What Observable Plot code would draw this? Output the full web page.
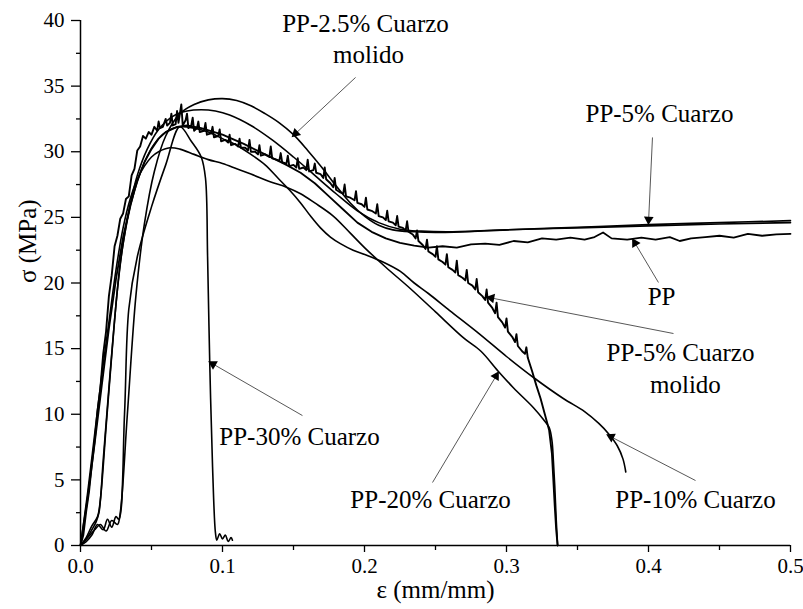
<!DOCTYPE html>
<html><head><meta charset="utf-8">
<script src="https://cdn.jsdelivr.net/npm/d3@7"></script>
<script src="https://cdn.jsdelivr.net/npm/@observablehq/plot@0.6"></script>
<style>
body{margin:0;background:#fff;}
svg{display:block}
</style>
</head><body><div id="chart"></div>
<script>
// ---- data: strain (mm/mm), stress (MPa) ----
const curvePP = [[0,0],[0.005,3.6],[0.01,7.8],[0.015,12.2],[0.02,16.5],[0.025,20.3],[0.03,23.5],[0.035,25.9],[0.04,27.8],[0.045,29.2],[0.05,30.2],[0.055,31.0],[0.06,31.5],[0.068,31.9],[0.075,32.0],[0.085,31.8],[0.1,31.3],[0.115,30.6],[0.13,29.8],[0.145,29.0],[0.155,28.4],[0.165,27.6],[0.175,26.6],[0.185,25.6],[0.195,24.6],[0.205,23.9],[0.215,23.4],[0.225,23.05],[0.235,22.85],[0.245,22.7],[0.255,22.8],[0.265,22.7],[0.275,22.95],[0.285,23.0],[0.295,22.9],[0.305,23.2],[0.315,23.1],[0.325,23.4],[0.335,23.3],[0.345,23.45],[0.355,23.3],[0.362,23.5],[0.368,23.85],[0.374,23.4],[0.385,23.3],[0.395,23.45],[0.405,23.3],[0.415,23.5],[0.422,23.2],[0.43,23.4],[0.44,23.5],[0.45,23.6],[0.46,23.45],[0.47,23.75],[0.48,23.6],[0.49,23.7],[0.5,23.75]];
const curvePP25molido = [[0,0],[0.005,0.6],[0.01,1.2],[0.014,1.6],[0.018,1.1],[0.022,1.9],[0.026,1.6],[0.028,2.5],[0.033,10],[0.039,19],[0.045,24.5],[0.052,28.5],[0.06,31.2],[0.07,32.9],[0.08,33.6],[0.09,33.95],[0.1,34.05],[0.11,33.9],[0.12,33.5],[0.13,32.9],[0.14,32.2],[0.15,31.3],[0.16,30.1],[0.17,28.8],[0.18,27.4],[0.19,26.1],[0.2,25.1],[0.21,24.4],[0.22,24.05],[0.235,23.9],[0.25,23.85],[0.28,23.95],[0.3,24.05],[0.35,24.2],[0.4,24.35],[0.45,24.5],[0.5,24.6]];
const curvePP5 = [[0,0],[0.004,0.6],[0.008,1.5],[0.012,2.2],[0.014,3.5],[0.018,9],[0.022,14.5],[0.026,19.5],[0.03,23],[0.035,26],[0.04,28.2],[0.047,30.2],[0.055,31.7],[0.065,32.7],[0.075,33.1],[0.085,33.2],[0.095,33.1],[0.105,32.8],[0.12,32.0],[0.135,30.9],[0.15,29.6],[0.165,28.2],[0.18,26.8],[0.195,25.5],[0.21,24.6],[0.225,24.1],[0.24,23.95],[0.26,23.9],[0.3,24.05],[0.35,24.25],[0.4,24.45],[0.45,24.6],[0.5,24.75]];
const curvePP5molido = [[0,0],[0.002,0.8],[0.004,2.6],[0.006,4.1],[0.008,6.2],[0.01,8.0],[0.012,10.3],[0.014,12.0],[0.016,14.6],[0.018,16.3],[0.02,19.0],[0.022,20.6],[0.024,22.8],[0.026,23.6],[0.028,24.9],[0.03,25.3],[0.032,26.4],[0.034,26.6],[0.036,28.2],[0.038,28.7],[0.04,30.1],[0.042,30.4],[0.044,31.2],[0.046,31.0],[0.048,31.5],[0.05,31.3],[0.052,31.9],[0.054,31.6],[0.055,32.3],[0.056,31.8],[0.058,31.9],[0.06,32.5],[0.061,32.0],[0.063,32.2],[0.064,32.9],[0.065,32.0],[0.067,32.1],[0.068,33.1],[0.069,32.2],[0.071,33.6],[0.072,32.0],[0.074,32.4],[0.075,32.9],[0.076,31.8],[0.078,32.0],[0.079,32.6],[0.08,31.6],[0.082,31.8],[0.083,32.3],[0.084,31.5],[0.087,31.6],[0.088,32.2],[0.089,31.3],[0.092,31.4],[0.093,31.9],[0.094,31.1],[0.097,31.2],[0.098,31.7],[0.099,30.8],[0.102,30.9],[0.104,30.7],[0.105,31.3],[0.106,30.5],[0.109,30.6],[0.111,30.4],[0.112,31.0],[0.113,30.3],[0.116,30.3],[0.118,30.1],[0.119,30.9],[0.12,30.0],[0.123,30.0],[0.125,29.8],[0.126,30.5],[0.127,29.7],[0.13,29.8],[0.133,29.6],[0.134,30.4],[0.135,29.5],[0.138,29.4],[0.14,29.3],[0.141,29.9],[0.142,29.2],[0.145,29.1],[0.146,29.7],[0.147,28.9],[0.15,29.0],[0.152,28.8],[0.153,29.5],[0.154,28.7],[0.157,28.8],[0.159,28.6],[0.16,29.4],[0.161,28.5],[0.164,28.6],[0.165,29.1],[0.166,28.4],[0.169,28.3],[0.171,28.0],[0.172,28.8],[0.173,27.9],[0.176,27.6],[0.178,27.3],[0.179,28.0],[0.18,27.1],[0.183,26.9],[0.185,26.8],[0.186,27.5],[0.187,26.6],[0.19,26.5],[0.193,26.3],[0.194,27.0],[0.195,26.1],[0.198,26.0],[0.2,25.8],[0.201,26.5],[0.202,25.6],[0.205,25.5],[0.208,25.3],[0.209,26.0],[0.21,25.1],[0.213,25.0],[0.215,24.8],[0.216,25.5],[0.217,24.7],[0.22,24.6],[0.222,24.4],[0.223,25.1],[0.224,24.3],[0.227,24.2],[0.229,24.0],[0.23,24.7],[0.231,23.9],[0.234,23.7],[0.236,23.4],[0.237,24.0],[0.238,23.2],[0.241,22.9],[0.243,22.6],[0.244,23.3],[0.245,22.4],[0.248,22.2],[0.25,22.0],[0.251,22.8],[0.252,21.8],[0.255,21.6],[0.257,21.4],[0.258,22.2],[0.259,21.2],[0.262,21.0],[0.264,20.8],[0.265,21.7],[0.266,20.6],[0.269,20.4],[0.271,20.2],[0.272,21.0],[0.273,20.0],[0.276,19.8],[0.278,19.5],[0.279,20.3],[0.28,19.3],[0.283,19.0],[0.285,18.7],[0.286,19.5],[0.287,18.5],[0.29,18.1],[0.292,17.7],[0.293,18.5],[0.294,17.4],[0.297,17.0],[0.299,16.6],[0.3,17.3],[0.301,16.3],[0.304,15.9],[0.306,15.5],[0.307,16.1],[0.308,15.2],[0.311,14.8],[0.313,14.6],[0.314,15.1],[0.315,14.3],[0.318,13.3],[0.321,12.2],[0.324,11.2],[0.327,10.0],[0.33,8.8],[0.332,7.0],[0.333,5.0],[0.334,3.0],[0.335,1.2],[0.336,0]];
const curvePP10 = [[0,0],[0.004,0.5],[0.008,1.2],[0.011,1.8],[0.013,2.5],[0.016,6.5],[0.02,12],[0.024,17.2],[0.028,21.5],[0.033,24.8],[0.038,27.0],[0.045,29.2],[0.052,30.6],[0.06,31.5],[0.07,31.9],[0.08,31.8],[0.09,31.5],[0.1,31.0],[0.11,30.5],[0.12,29.8],[0.13,29.0],[0.139,28.0],[0.147,27.1],[0.155,26.1],[0.162,25.1],[0.169,24.2],[0.176,23.5],[0.183,23.0],[0.192,22.5],[0.202,22.1],[0.213,21.6],[0.225,20.9],[0.235,20.0],[0.245,19.2],[0.26,17.9],[0.28,16.2],[0.3,14.4],[0.319,12.8],[0.34,11.2],[0.355,10.2],[0.365,9.3],[0.372,8.5],[0.378,7.6],[0.382,6.6],[0.384,5.6]];
const curvePP20 = [[0,0],[0.005,4.0],[0.01,8.5],[0.015,13],[0.02,17],[0.025,21],[0.03,24.2],[0.035,26.4],[0.04,27.9],[0.045,28.9],[0.05,29.6],[0.055,30.0],[0.063,30.3],[0.07,30.2],[0.08,29.8],[0.09,29.4],[0.1,29.1],[0.11,28.7],[0.12,28.3],[0.134,27.7],[0.145,27.3],[0.155,26.8],[0.165,26.1],[0.178,25.1],[0.19,23.8],[0.2,22.7],[0.215,21.2],[0.232,19.6],[0.25,17.8],[0.27,15.8],[0.282,14.8],[0.294,13.3],[0.305,12.0],[0.319,10.5],[0.326,9.6],[0.33,9.0],[0.332,8.0],[0.333,6.5],[0.334,4.5],[0.335,2.0],[0.336,0]];
const curvePP30 = [[0,0],[0.004,0.3],[0.008,0.8],[0.012,1.6],[0.016,1.2],[0.019,2.0],[0.022,1.4],[0.025,2.2],[0.027,2.0],[0.031,10],[0.034,18],[0.04,22],[0.05,25.8],[0.06,29],[0.07,31.9],[0.078,30.8],[0.085,29.6],[0.088,28],[0.0895,22],[0.091,14],[0.093,6],[0.095,1],[0.096,0.4],[0.098,0.9],[0.1,0.5],[0.102,0.8],[0.104,0.3],[0.106,0.6],[0.107,0.4]];

const seriesNames = ["PP","PP-2.5% Cuarzo molido","PP-5% Cuarzo","PP-5% Cuarzo molido","PP-10% Cuarzo","PP-20% Cuarzo","PP-30% Cuarzo"];
const seriesData = [curvePP, curvePP25molido, curvePP5, curvePP5molido, curvePP10, curvePP20, curvePP30];

// annotations (data coordinates)
const annText = ["PP-2.5% Cuarzo","molido","PP-5% Cuarzo","PP","PP-5% Cuarzo","molido","PP-30% Cuarzo","PP-20% Cuarzo","PP-10% Cuarzo"];
const annX = [0.2007,0.2028,0.4077,0.4092,0.4225,0.426,0.1542,0.2465,0.4331];
const annY = [39.7,37.35,32.84,18.9,14.7,12.2,8.3,3.43,3.43];

const arrX1 = [0.1937,0.4028,0.407,0.4176,0.1563,0.2479,0.4331];
const arrY1 = [35.66,31.09,20.04,16.15,9.9,4.8,4.95];
const arrX2 = [0.15,0.4,0.3894,0.2873,0.0915,0.2937,0.3718];
const arrY2 = [31.24,24.61,23.24,18.9,13.94,13.1,8.38];

const xMajor = [0,0.1,0.2,0.3,0.4,0.5];
const xMinor = [0.05,0.15,0.25,0.35,0.45];
const yMajor = [0,5,10,15,20,25,30,35,40];
const yMinor = [2.5,7.5,12.5,17.5,22.5,27.5,32.5,37.5];

// ---- build ----
const W = 803, H = 609, mL = 80, mR = 13, mT = 20, mB = 64;
const xDom = [0,0.5], yDom = [0,40];
const pxPerX = (W-mL-mR)/(xDom[1]-xDom[0]);
const pxPerY = (H-mT-mB)/(yDom[1]-yDom[0]);
const FONT = "'Liberation Serif', 'Times New Roman', serif";

const rows = seriesData.flatMap((d,k) => d.map(([x,y]) => ({series: seriesNames[k], x, y})));
const smooth = rows.filter(r => r.series !== "PP-5% Cuarzo molido" && r.series !== "PP");
const noisy = rows.filter(r => r.series === "PP-5% Cuarzo molido");
const ppRows = rows.filter(r => r.series === "PP");

const anns = annText.map((t,i) => ({t, x: annX[i], y: annY[i]}));
const arrows = arrX1.map((x1,i) => {
  const dx = (arrX2[i]-x1)*pxPerX, dy = -(arrY2[i]-arrY1[i])*pxPerY;
  const len = Math.hypot(dx,dy);
  const back = 3; // pull triangle centre back from tip (px)
  return {x1, y1: arrY1[i], x2: arrX2[i], y2: arrY2[i],
    hx: arrX2[i] - (dx/len)*back/pxPerX,
    hy: arrY2[i] + (dy/len)*back/pxPerY,
    angle: Math.atan2(dx, -dy)*180/Math.PI};
});

const chart = Plot.plot({
  width: W, height: H,
  marginLeft: mL, marginRight: mR, marginTop: mT, marginBottom: mB,
  style: `font-family: ${FONT}; background: #fff; color: #000;`,
  x: {domain: xDom},
  y: {domain: yDom},
  marks: [
    Plot.axisY(yMajor, {tickSize: 9, tickPadding: 7, fontSize: 21, tickFormat: d => String(d), label: null, stroke: "#000", strokeWidth: 1.3}),
    Plot.axisY(yMinor, {tickSize: 4, tickFormat: () => "", label: null, stroke: "#000", strokeWidth: 1.3}),
    Plot.axisX(xMajor, {tickSize: 7, tickPadding: 6, fontSize: 21, tickFormat: d => d.toFixed(1), label: null, stroke: "#000", strokeWidth: 1.3}),
    Plot.axisX(xMinor, {tickSize: 5, tickFormat: () => "", label: null, stroke: "#000", strokeWidth: 1.3}),
    Plot.ruleX([0], {stroke: "#000", strokeWidth: 1.5}),
    Plot.ruleY([0], {stroke: "#000", strokeWidth: 1.5}),
    Plot.line(smooth, {x: "x", y: "y", z: "series", stroke: "#000", strokeWidth: 1.6, curve: "catmull-rom"}),
    Plot.line(ppRows, {x: "x", y: "y", stroke: "#000", strokeWidth: 1.8, curve: "linear"}),
    Plot.line(noisy, {x: "x", y: "y", stroke: "#000", strokeWidth: 1.9, curve: "linear"}),
    Plot.link(arrows, {x1: "x1", y1: "y1", x2: "x2", y2: "y2", stroke: "#444", strokeWidth: 0.9}),
    Plot.dot(arrows, {x: "hx", y: "hy", symbol: "triangle", r: 3.6, fill: "#000", stroke: "none", rotate: "angle"}),
    Plot.text(anns, {x: "x", y: "y", text: "t", fontSize: 25, fill: "#000"}),
    Plot.text(["ε (mm/mm)"], {frameAnchor: "bottom", dy: 52, fontSize: 25, fill: "#000"}),
    Plot.text(["σ (MPa)"], {frameAnchor: "left", dx: -53, rotate: -90, fontSize: 25, fill: "#000"})
  ]
});
// force the serif face on every text node
d3.select(chart).attr("font-family", "Liberation Serif")
  .selectAll("g, text").attr("font-family", "Liberation Serif").style("font-family", FONT);
document.getElementById("chart").appendChild(chart);
</script>
</body></html>
